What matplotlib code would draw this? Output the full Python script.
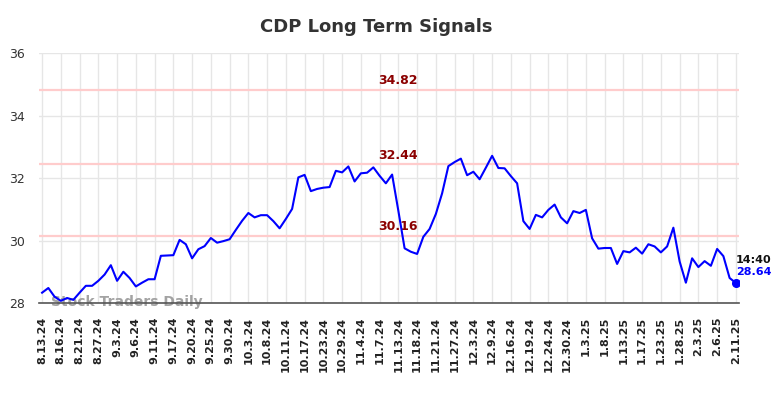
import numpy as np
import matplotlib.pyplot as plt

# closing values, one per trading day (8.13.24 .. 2.11.25)
values = [28.33, 28.48, 28.20, 28.07, 28.16, 28.10, 28.33, 28.55, 28.55, 28.71,
          28.91, 29.21, 28.71, 29.00, 28.80, 28.53, 28.65, 28.76, 28.76, 29.51,
          29.52, 29.53, 30.02, 29.88, 29.43, 29.72, 29.82, 30.08, 29.93, 29.98,
          30.04, 30.34, 30.63, 30.88, 30.74, 30.81, 30.81, 30.62, 30.39, 30.69,
          31.01, 32.02, 32.10, 31.58, 31.65, 31.69, 31.71, 32.23, 32.18, 32.37,
          31.89, 32.15, 32.17, 32.34, 32.07, 31.83, 32.11, 30.95, 29.75, 29.64,
          29.57, 30.12, 30.37, 30.85, 31.51, 32.38, 32.51, 32.62, 32.09, 32.20,
          31.96, 32.33, 32.71, 32.32, 32.31, 32.06, 31.83, 30.62, 30.37, 30.82,
          30.74, 30.98, 31.15, 30.74, 30.55, 30.94, 30.88, 30.98, 30.07, 29.74,
          29.76, 29.76, 29.25, 29.66, 29.62, 29.77, 29.58, 29.88, 29.81, 29.62,
          29.81, 30.41, 29.33, 28.65, 29.43, 29.15, 29.34, 29.19, 29.73, 29.50,
          28.80, 28.64]

tick_labels = ['8.13.24', '8.16.24', '8.21.24', '8.27.24', '9.3.24', '9.6.24',
               '9.11.24', '9.17.24', '9.20.24', '9.25.24', '9.30.24', '10.3.24',
               '10.8.24', '10.11.24', '10.17.24', '10.23.24', '10.29.24', '11.4.24',
               '11.7.24', '11.13.24', '11.18.24', '11.21.24', '11.27.24', '12.3.24',
               '12.9.24', '12.16.24', '12.19.24', '12.24.24', '12.30.24', '1.3.25',
               '1.8.25', '1.13.25', '1.17.25', '1.23.25', '1.28.25', '2.3.25',
               '2.6.25', '2.11.25']

levels = [34.82, 32.44, 30.16]
last_time = '14:40'

x = np.arange(len(values))
ticks = np.arange(0, len(values), 3)

fig = plt.figure(figsize=(7.84, 3.98), dpi=100)
ax = fig.add_axes([0.0497, 0.2387, 0.8929, 0.6281])

ax.set_xlim(-0.5, len(values) - 0.5)
ax.set_ylim(28, 36)

ax.set_xticks(ticks)
ax.set_xticklabels(tick_labels, rotation=90, fontsize=8, fontweight='bold', color='#222222')
ax.set_yticks([28, 30, 32, 34, 36])
ax.tick_params(axis='y', labelsize=9, colors='#333333', length=0, pad=10)
ax.tick_params(axis='x', length=0, pad=10)
ax.grid(True, color='#e6e6e6', linewidth=1)
ax.set_axisbelow(True)
for s in ['top', 'right', 'left']:
    ax.spines[s].set_visible(False)
ax.spines['bottom'].set_color('#555555')
ax.spines['bottom'].set_linewidth(1.2)

mid = 57
for lv in levels:
    ax.axhline(lv, color='#ffcccc', linewidth=1.6, zorder=1)
    ax.text(mid, lv + 0.08, f'{lv:.2f}', color='#8b0000', fontsize=9,
            fontweight='bold', ha='center', va='bottom')

ax.plot(x, values, color='#0000ff', linewidth=1.5, zorder=3)
ax.plot(x[-1], values[-1], 'o', color='#0000ff', markersize=5.5, zorder=4)
ax.text(x[-1], values[-1] + 0.74, last_time, fontsize=8, fontweight='bold',
        color='#111111', ha='left', va='center')
ax.text(x[-1], values[-1] + 0.35, f'{values[-1]:.2f}', fontsize=8, fontweight='bold',
        color='#0000ff', ha='left', va='center')

ax.text(1.5, 28.02, 'Stock Traders Daily', fontsize=10, fontweight='bold',
        color='#999999', alpha=0.9, ha='left', va='center', zorder=2)

fig.suptitle('CDP Long Term Signals', x=0.48, y=0.955, fontsize=13,
             fontweight='bold', color='#333333')

fig.savefig('out.png')
